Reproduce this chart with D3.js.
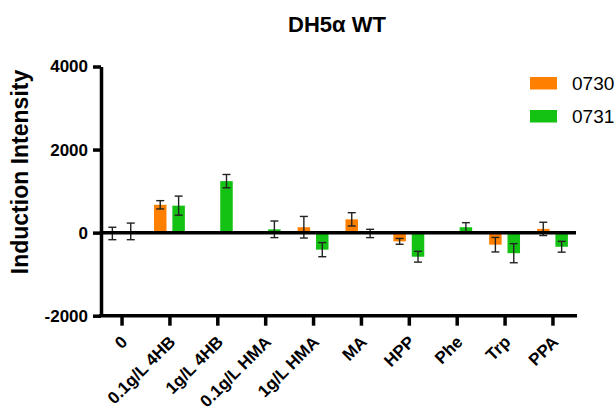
<!DOCTYPE html>
<html lang="en">
<head>
<meta charset="utf-8">
<title>DH5α WT</title>
<script src="https://d3js.org/d3.v7.min.js"></script>
<style>
  body { margin: 0; background: #fff; }
  text { font-family: Arial, "Liberation Sans", sans-serif; }
</style>
</head>
<body>
<svg width="615" height="413"></svg>
<script>
// data
var categories = ["0", "0.1g/L 4HB", "1g/L 4HB", "0.1g/L HMA", "1g/L HMA", "MA", "HPP", "Phe", "Trp", "PPA"]
var series = ["0730", "0731"]
var mean0730 = [-20, 670, 0, 0, 130, 320, -210, 30, -290, 90]
var err0730  = [150, 100, 0, 0, 260, 160, 70, 0, 175, 160]
var mean0731 = [30, 650, 1240, 80, -410, -20, -580, 130, -495, -340]
var err0731  = [200, 230, 160, 200, 170, 100, 130, 110, 230, 130]
var yTicks = [-2000, 0, 2000, 4000]
var colors = ["#ff8000", "#14c214"]

var svg = d3.select("svg")

var x = d3.scalePoint().domain(categories).range([100, 574]).padding(0.45)
var x1 = d3.scaleBand().domain(series).range([-15.45, 15.45]).paddingInner(0.32)
var y = d3.scaleLinear().domain([-2000, 4000]).range([315.7, 66.5])

var rows = []
categories.forEach(function(c, i){
  rows.push({cat: c, s: "0730", v: mean0730[i], e: err0730[i], col: colors[0]})
  rows.push({cat: c, s: "0731", v: mean0731[i], e: err0731[i], col: colors[1]})
})

// bars
svg.append("g").selectAll("rect")
  .data(rows.filter(function(d){ return d.v != 0 }))
  .enter().append("rect")
  .attr("x", function(d){ return x(d.cat) + x1(d.s) })
  .attr("width", x1.bandwidth())
  .attr("y", function(d){ return Math.min(y(d.v), y(0)) })
  .attr("height", function(d){ return Math.abs(y(d.v) - y(0)) })
  .attr("fill", function(d){ return d.col })

// error bars
var eb = svg.append("g").attr("stroke", "#222").attr("stroke-width", 1.4)
  .selectAll("g").data(rows.filter(function(d){ return d.e > 0 }))
  .enter().append("g")
  .attr("transform", function(d){ return "translate(" + (x(d.cat) + x1(d.s) + x1.bandwidth()/2) + ",0)" })
eb.append("line")
  .attr("y1", function(d){ return y(d.v + d.e) })
  .attr("y2", function(d){ return y(d.v - d.e) })
eb.append("line").attr("x1", -4).attr("x2", 4)
  .attr("y1", function(d){ return y(d.v + d.e) }).attr("y2", function(d){ return y(d.v + d.e) })
eb.append("line").attr("x1", -4).attr("x2", 4)
  .attr("y1", function(d){ return y(d.v - d.e) }).attr("y2", function(d){ return y(d.v - d.e) })

// zero line
svg.append("line")
  .attr("x1", 100).attr("x2", 576)
  .attr("y1", y(0)).attr("y2", y(0))
  .attr("stroke", "#000").attr("stroke-width", 3.5)

// axes
var yAxis = svg.append("g").attr("transform", "translate(101,0)")
  .call(d3.axisLeft(y).tickValues(yTicks).tickSize(8).tickSizeOuter(0).tickPadding(5)
    .tickFormat(function(d){ return String(d) }))
var xAxis = svg.append("g").attr("transform", "translate(0," + y(-2000) + ")")
  .call(d3.axisBottom(x).tickSize(10).tickSizeOuter(0).tickFormat(""))
xAxis.select(".domain").attr("d", "M99,0H577")
svg.selectAll(".domain, .tick line").attr("stroke", "#000").attr("stroke-width", 3.5)
yAxis.selectAll("text").style("font-size", "17px").style("font-weight", "bold").attr("fill", "#000")

// rotated category labels
svg.append("g").selectAll("text")
  .data(categories).enter().append("text")
  .attr("transform", function(d){ return "translate(" + (x(d) + 7) + ",343) rotate(-45)" })
  .attr("text-anchor", "end")
  .style("font-size", "17px").style("font-weight", "bold")
  .text(function(d){ return d })

// titles
svg.append("text").attr("x", 337).attr("y", 32).attr("text-anchor", "middle")
  .style("font-size", "22px").style("font-weight", "bold").text("DH5α WT")
svg.append("text").attr("transform", "translate(28,172) rotate(-90)").attr("text-anchor", "middle")
  .style("font-size", "23px").style("font-weight", "bold").text("Induction Intensity")

// legend
var lg = svg.append("g").selectAll("g").data(series).enter().append("g")
  .attr("transform", function(d, i){ return "translate(530," + (77 + i*33) + ")" })
lg.append("rect").attr("width", 27).attr("height", 12.5).attr("fill", function(d, i){ return colors[i] })
lg.append("text").attr("x", 42).attr("y", 13).style("font-size", "19px").text(function(d){ return d })
</script>
</body>
</html>
